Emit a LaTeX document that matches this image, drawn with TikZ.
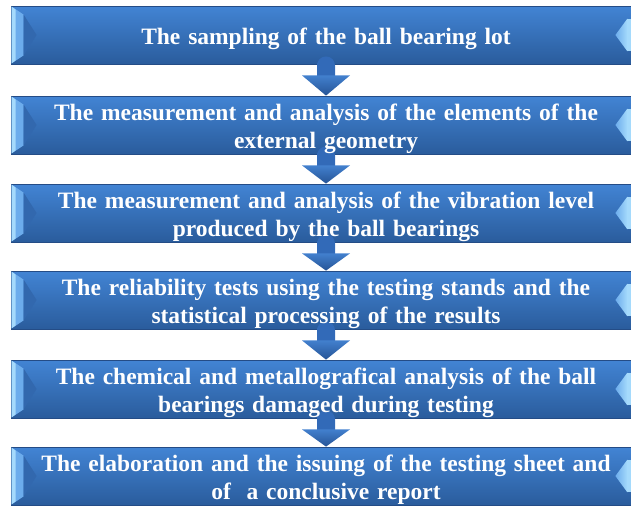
\documentclass[tikz,border=0pt]{standalone}
\usepackage{fontspec}
\setmainfont{Liberation Serif}
\usetikzlibrary{calc}
\definecolor{boxtop}{RGB}{66,132,212}
\definecolor{boxmid}{RGB}{58,118,194}
\definecolor{boxbot}{RGB}{42,92,156}
\definecolor{boxedge}{RGB}{36,76,134}
\definecolor{bevlight}{RGB}{165,218,252}
\definecolor{bevmid}{RGB}{108,172,236}
\definecolor{bevdark}{RGB}{50,104,174}
\definecolor{shaftlight}{RGB}{160,212,250}
\definecolor{shaftedge}{RGB}{50,106,184}
\definecolor{headtop}{RGB}{66,128,206}
\definecolor{headbot}{RGB}{38,84,150}
\begin{document}
\begin{tikzpicture}[x=1pt,y=-1pt,
  stepbox/.style={rectangle, minimum width=630pt, minimum height=58pt,
    inner sep=0pt, draw=boxedge, line width=0.8pt,
    top color=boxtop, middle color=boxmid, bottom color=boxbot},
  steptext/.style={inner sep=0pt, text=white, text width=610pt, align=center,
    yshift=-3.5pt, font=\bfseries\fontsize{23.5}{28}\selectfont},
  headfill/.style={top color=headtop, bottom color=headbot},
  shaftfill/.style={left color=shaftedge, middle color=shaftlight, right color=shaftedge}
]
\path[use as bounding box] (0,0) rectangle (631,506);
\clip (0,0) rectangle (631,506);

% the six process steps
\node[stepbox] (b1) at (326,35)  {};
\node[stepbox] (b2) at (326,125) {};
\node[stepbox] (b3) at (326,213) {};
\node[stepbox] (b4) at (326,300) {};
\node[stepbox] (b5) at (326,389) {};
\node[stepbox] (b6) at (326,476) {};

% bevelled ends of each box
\foreach \n in {b1,b2,b3,b4,b5,b6}{
  \fill[bevmid] ($(\n.north west)+(1,1)$) -- ($(\n.north west)+(13,9)$)
    -- ($(\n.south west)+(13,-9)$) -- ($(\n.south west)+(1,-1)$) -- cycle;
  \fill[bevlight] ($(\n.north west)+(1,1)$) -- ($(\n.north west)+(5,4)$)
    -- ($(\n.south west)+(5,-4)$) -- ($(\n.south west)+(1,-1)$) -- cycle;
  \fill[bevdark] ($(\n.north west)+(13,9)$) -- ($(\n.west)+(26,0)$)
    -- ($(\n.south west)+(13,-9)$) -- cycle;
  \shade[left color=bevmid, right color=bevlight]
    ($(\n.north east)+(-14,13)$) -- ($(\n.east)+(-26,0)$)
    -- ($(\n.south east)+(-14,-13)$) -- cycle;
  \fill[bevlight] ($(\n.north east)+(-14,13)$) rectangle ($(\n.south east)+(-10,-13)$);
}

% down arrows between consecutive steps
\foreach \a/\b in {b1/b2,b2/b3,b3/b4,b4/b5,b5/b6}{
  \shade[shaftfill] ($(\a.south)+(-9,12)$) -- ($(\a.south)+(-9,1)$)
    arc[start angle=180, end angle=0, radius=9pt] -- ($(\a.south)+(9,12)$) -- cycle;
  \shade[headfill] ($(\a.south)+(-24,11)$) -- ($(\a.south)+(24,11)$) -- (\b.north) -- cycle;
}

% captions, on top of the arrow shafts
\node[steptext] (t1) at (b1.center) {The sampling of the ball bearing lot};
\node[steptext] (t2) at (b2.center) {The measurement and analysis of the elements of the\\external geometry};
\node[steptext] (t3) at (b3.center) {The measurement and analysis of the vibration level\\produced by the ball bearings};
\node[steptext] (t4) at (b4.center) {The reliability tests using the testing stands and the\\statistical processing of the results};
\node[steptext] (t5) at (b5.center) {The chemical and metallografical analysis of the ball\\bearings damaged during testing};
\node[steptext] (t6) at (b6.center) {The elaboration and the issuing of the testing sheet and\\of\ \ a conclusive report};
\end{tikzpicture}
\end{document}
